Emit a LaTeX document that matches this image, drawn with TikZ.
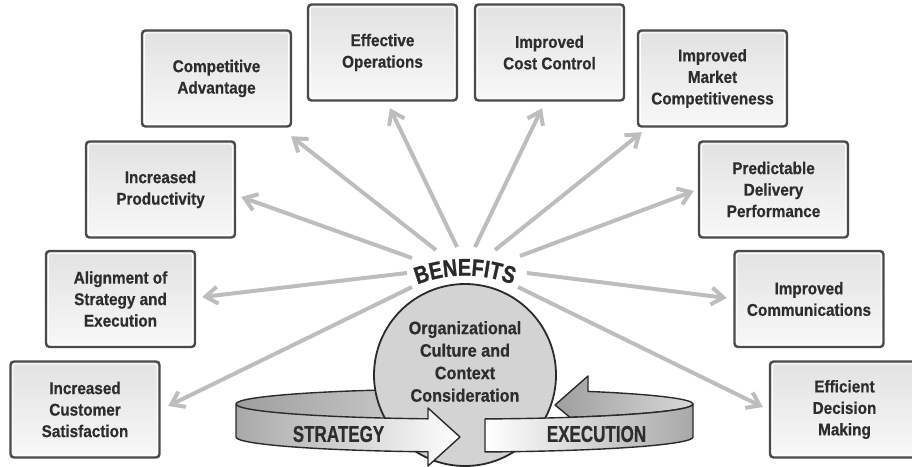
\documentclass[tikz,border=0pt]{standalone}
\usepackage{fontspec}
\setmainfont{Liberation Sans}
\newfontfamily\condfont{Liberation Sans}[FakeStretch=0.90, BoldFeatures={FakeBold=0.6}]
\newfontfamily\bandfont{Liberation Sans}[FakeStretch=0.74, BoldFeatures={FakeBold=0.6}]
\newfontfamily\benfont{Liberation Sans}[FakeStretch=0.82, BoldFeatures={FakeBold=1.0}]
\usetikzlibrary{arrows.meta,decorations.text,calc}

\definecolor{boxline}{HTML}{4A4A4A}
\definecolor{boxtop}{HTML}{E2E2E2}
\definecolor{boxbot}{HTML}{F8F8F8}
\definecolor{raygray}{HTML}{BDBDBD}
\definecolor{txt}{HTML}{2D2D2D}
\definecolor{inkline}{HTML}{2A2A2A}
\definecolor{corefill}{HTML}{D3D3D3}
\definecolor{bandgray}{HTML}{A8A8A8}
\definecolor{innerdark}{HTML}{9E9E9E}
\definecolor{innerlight}{HTML}{D8D8D8}

\tikzset{
  benefitbox/.style={draw=boxline, line width=2.4pt, rounded corners=3.5pt,
    top color=boxtop, bottom color=boxbot,
    minimum width=149pt, minimum height=96pt, inner sep=0pt,
    align=center, text=txt,
    font=\condfont\bfseries\fontsize{17}{21.5}\selectfont,
    path picture={\draw[white, line width=1.1pt, rounded corners=2pt]
      ([shift={(2.4,-2.4)}]path picture bounding box.north west) rectangle
      ([shift={(-2.4,2.4)}]path picture bounding box.south east);}},
  ray/.style={draw=raygray, line width=4pt,
    -{Straight Barb[length=12pt, width=17pt]}},
  corecircle/.style={circle, draw=inkline, line width=1.8pt, fill=corefill,
    minimum size=182pt, inner sep=0pt},
  coretext/.style={align=center, text=txt,
    font=\condfont\bfseries\fontsize{18}{22.5}\selectfont},
  bandtext/.style={text=txt, inner sep=0pt,
    font=\bandfont\bfseries\fontsize{23}{23}\selectfont},
  bandedge/.style={draw=inkline, line width=1.4pt, line join=round},
}

\begin{document}
\begin{tikzpicture}[x=1pt, y=1pt]
\useasboundingbox (0,0) rectangle (912,-466);
\clip (0,0) rectangle (912,-466);

% benefit boxes
\node[benefitbox] (ca) at (216.5,-78.5) {Competitive\\Advantage};
\node[benefitbox] (eo) at (382.5,-52.5) {Effective\\Operations};
\node[benefitbox] (cc) at (549.5,-52.5) {Improved\\Cost Control};
\node[benefitbox] (mc) at (712.5,-78.5) {Improved\\Market\\Competitiveness};
\node[benefitbox] (ip) at (160.5,-189.5) {Increased\\Productivity};
\node[benefitbox] (pd) at (773.5,-189.5) {Predictable\\Delivery\\Performance};
\node[benefitbox] (al) at (120.5,-299) {Alignment of\\Strategy and\\Execution};
\node[benefitbox] (ic) at (809,-299) {Improved\\Communications};
\node[benefitbox] (cs) at (85,-409.5) {Increased\\Customer\\Satisfaction};
\node[benefitbox] (ed) at (844.5,-409.5) {Efficient\\Decision\\Making};

% starting points of the rays around the BENEFITS label
\coordinate (s1) at (436,-250);
\coordinate (s2) at (457,-247);
\coordinate (s3) at (475,-247);
\coordinate (s4) at (495,-250);
\coordinate (s5) at (520,-256);
\coordinate (s6) at (527,-273);
\coordinate (s7) at (518,-287);
\coordinate (s8) at (412,-287);
\coordinate (s9) at (407,-273);
\coordinate (s10) at (412,-258);

% rays
\draw[ray] (s1) -- ([shift={(-1,-8.5)}]ca.south east);
\draw[ray] (s2) -- ([shift={(7.5,-6.5)}]eo.south);
\draw[ray] (s3) -- ([shift={(-7.5,-6.5)}]cc.south);
\draw[ray] (s4) -- ([shift={(5,-4.5)}]mc.south west);
\draw[ray] (s5) -- ([shift={(-4,-1.5)}]pd.west);
\draw[ray] (s6) -- ([shift={(-6.5,1)}]ic.west);
\draw[ray] (s7) -- ([shift={(-6,2.5)}]ed.west);
\draw[ray] (s8) -- ([shift={(7.5,3.5)}]cs.east);
\draw[ray] (s9) -- ([shift={(6,2)}]al.east);
\draw[ray] (s10) -- ([shift={(5,-7.5)}]ip.east);

% inner surface of the ring, left part
\fill[left color=innerdark, right color=innerlight]
  (236,-404) arc[start angle=180, end angle=90, x radius=228.5, y radius=15]
  -- (464.5,-419) arc[start angle=270, end angle=180, x radius=228.5, y radius=15]
  -- cycle;
\draw[bandedge] (236,-404) arc[start angle=180, end angle=90, x radius=228.5, y radius=15];

% back arrow of the ring, pointing left
\draw[bandedge, left color=innerdark, right color=innerlight]
  (555,-405) -- (588,-376) -- (588,-391.4)
  arc[start angle=57.28, end angle=0, x radius=228.5, y radius=15]
  arc[start angle=360, end angle=297.5, x radius=228.5, y radius=15]
  -- cycle;

% central circle
\node[corecircle] (core) at (465,-375) {};
\node[coretext] (coretxt) at ([yshift=13.5]core.center)
  {Organizational\\Culture and\\Context\\Consideration};

% front arrow: strategy
\draw[bandedge, left color=bandgray, middle color=white, right color=white]
  (236,-404) arc[start angle=180, end angle=260.8, x radius=228.5, y radius=15]
  -- (428,-408) -- (460,-437) -- (428,-466) -- (428,-451.8)
  arc[start angle=260.8, end angle=180, x radius=228.5, y radius=15]
  -- cycle;
\node[bandtext] (strat) at (338.5,-434) {STRATEGY};

% front arrow: execution
\draw[bandedge, left color=white, middle color=white, right color=bandgray]
  (485,-418.94) arc[start angle=275.15, end angle=360, x radius=228.5, y radius=15]
  -- (693,-437)
  arc[start angle=360, end angle=275.15, x radius=228.5, y radius=15]
  -- cycle;
\node[bandtext] (exec) at (596.5,-434) {EXECUTION};

% arched title
\path[decorate, decoration={text along path, text align=center,
  text={|\benfont\bfseries\fontsize{24}{24}\selectfont\color{inkline}|BENEFITS}}]
  (380.15,-306.5) arc[start angle=130, end angle=50, radius=132];
\end{tikzpicture}
\end{document}
